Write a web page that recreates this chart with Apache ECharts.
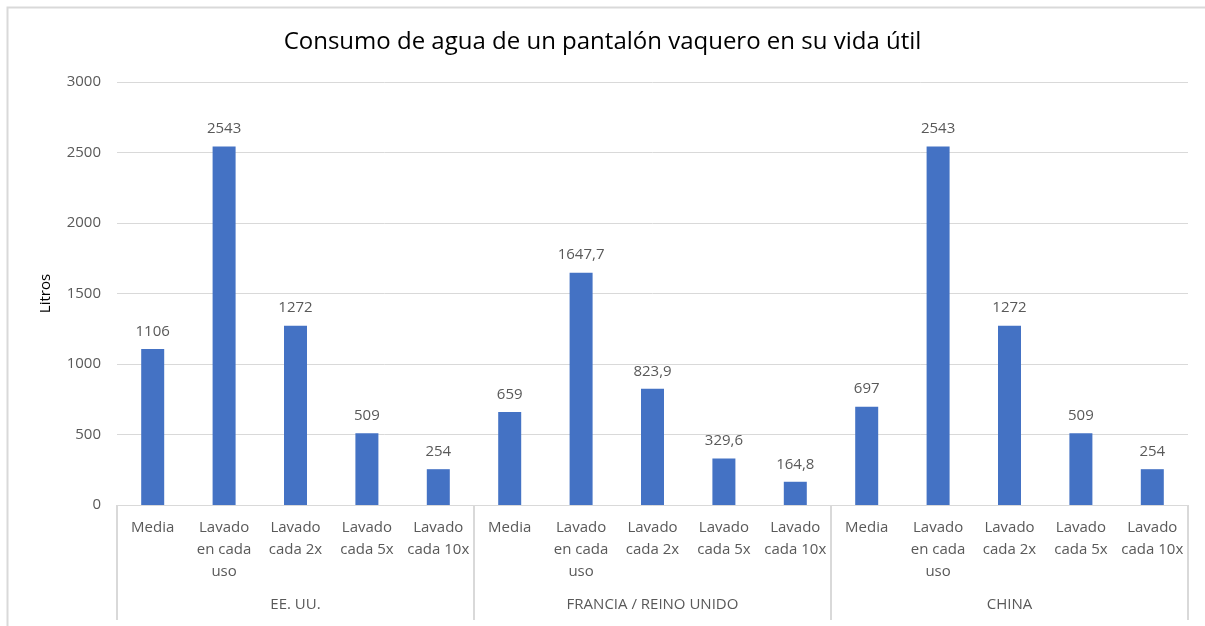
<!DOCTYPE html>
<html lang="es">
<head>
    <meta charset="UTF-8">
    <title>Consumo de agua</title>
    <script src="https://cdn.jsdelivr.net/npm/echarts@6/dist/echarts.min.js"></script>
    <style>
        html, body { margin: 0; padding: 0; background: #fff; }
    </style>
</head>
<body>
    <div id="chart_div" style="width: 1205px; height: 626px;"></div>
</body>
    <script type="text/javascript">

       // datos
       var grupos = ['EE. UU.', 'FRANCIA / REINO UNIDO', 'CHINA'];
       var escenarios = ['Media', 'Lavado\nen cada\nuso', 'Lavado\ncada 2x', 'Lavado\ncada 5x', 'Lavado\ncada 10x'];
       var eeuu = [1106, 2543, 1272, 509, 254];
       var francia = [659, 1647.7, 823.9, 329.6, 164.8];
       var china = [697, 2543, 1272, 509, 254];
       var yTicks = [0, 500, 1000, 1500, 2000, 2500, 3000];

       var categorias = [];
       var valores = [];
       [eeuu, francia, china].forEach(function (serie) {
           for (var i = 0; i < serie.length; i++) {
               categorias.push(escenarios[i]);
               valores.push(serie[i]);
           }
       });

       var fuente = 'Open Sans';
       var gris = '#595959';
       var linea = '#d9d9d9';

       var chart = echarts.init(document.getElementById("chart_div"));
       var options = {
            animation: false,
            textStyle: { fontFamily: fuente },
            title: {
                text: 'Consumo de agua de un pantalón vaquero en su vida útil',
                left: 'center',
                top: 25,
                textStyle: { fontFamily: fuente, fontSize: 24, fontWeight: 'normal', color: '#000' }
            },
            graphic: [{
                type: 'rect',
                shape: { x: 7.5, y: 7.5, width: 1220, height: 640 },
                style: { fill: 'none', stroke: linea, lineWidth: 2 },
                silent: true
            }],
            grid: { left: 117, right: 17, top: 82, bottom: 121 },
            xAxis: [
                {
                    type: 'category',
                    data: categorias,
                    axisLine: { lineStyle: { color: linea, width: 1 } },
                    axisTick: { show: false },
                    axisLabel: {
                        interval: 0,
                        color: gris,
                        fontSize: 15,
                        lineHeight: 22,
                        margin: 12,
                        verticalAlign: 'top'
                    }
                },
                {
                    type: 'category',
                    data: grupos,
                    position: 'bottom',
                    axisLine: { show: false },
                    axisTick: { show: true, length: 115, lineStyle: { color: linea, width: 2 } },
                    axisLabel: { color: gris, fontSize: 15, margin: 92, verticalAlign: 'top' }
                }
            ],
            yAxis: {
                type: 'value',
                min: yTicks[0],
                max: yTicks[yTicks.length - 1],
                interval: yTicks[1] - yTicks[0],
                name: 'Litros',
                nameLocation: 'middle',
                nameRotate: 90,
                nameGap: 64,
                nameTextStyle: { color: '#000', fontSize: 15 },
                axisLine: { show: false },
                axisTick: { show: false },
                axisLabel: {
                    color: gris,
                    fontSize: 15,
                    margin: 16,
                    formatter: function (v) { return String(v); }
                },
                splitLine: { lineStyle: { color: linea, width: 1 } }
            },
            series: [
                {
                    name: 'Litros',
                    type: 'bar',
                    data: valores,
                    barWidth: 23,
                    itemStyle: { color: '#4472C4' },
                    label: {
                        show: true,
                        position: 'top',
                        distance: 10,
                        color: gris,
                        fontSize: 15,
                        formatter: function (p) {
                            return String(p.value).replace('.', ',');
                        }
                    }
                }
            ]
       };

       chart.setOption(options);

    </script>
</html>
